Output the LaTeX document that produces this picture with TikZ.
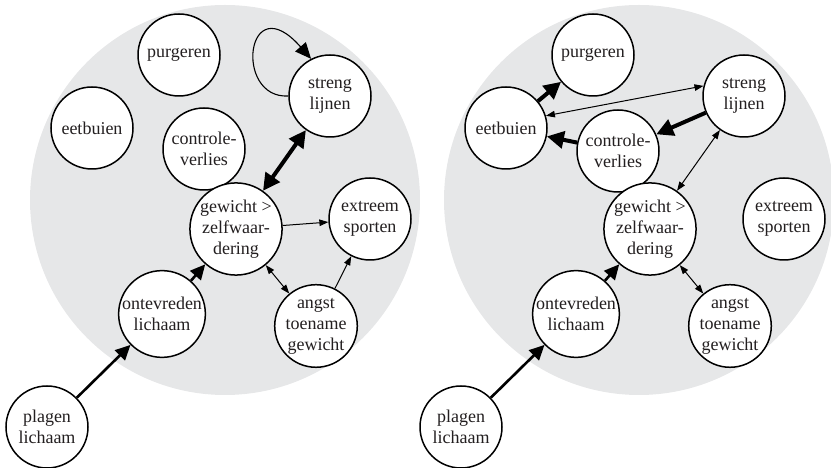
\documentclass[tikz,border=0pt]{standalone}
\usepackage{fontspec}
\setmainfont{Liberation Serif}
\usetikzlibrary{arrows.meta}

\definecolor{bggrey}{RGB}{230,231,232}
\definecolor{inkgrey}{RGB}{35,31,32}

\tikzset{
  factor/.style={shape=circle,draw=black,line width=1.5pt,fill=white,
    minimum size=82pt,inner sep=0pt,align=center,text=inkgrey,
    font=\fontsize{18}{21}\selectfont},
  heavyarrow/.style={line width=4pt,>={Triangle[length=17pt,width=17pt]}},
  midarrow/.style={line width=2.6pt,>={Triangle[length=15pt,width=14pt]}},
  lightarrow/.style={line width=1pt,>={Triangle[length=9pt,width=6.5pt]}},
}

\begin{document}
\begin{tikzpicture}[x=1pt,y=1pt]
    \useasboundingbox (0,0) rectangle (831,468);
    \fill[bggrey] (225,268) circle (195pt);
    \fill[bggrey] (639,268) circle (195pt);

    % before
    \node[factor] (purgeren1) at (179,413) {purgeren};
    \node[factor] (eetbuien1) at (92,340) {eetbuien};
    \node[factor] (controle1) at (204,319) {controle-\\verlies};
    \node[factor] (streng1) at (330,372) {streng\\lijnen};
    \node[factor] (gewicht1) at (236,239) {gewicht >\\zelfwaar-\\dering};
    \node[factor] (extreem1) at (370,249) {extreem\\sporten};
    \node[factor] (ontevreden1) at (162,154) {ontevreden\\lichaam};
    \node[factor] (angst1) at (316,142) {angst\\toename\\gewicht};
    \node[factor] (plagen1) at (47,41) {plagen\\lichaam};

    \path [heavyarrow,<->] (streng1) edge (gewicht1);
    \path [midarrow,->] (ontevreden1) edge (gewicht1);
    \path [midarrow,->] (plagen1) edge (ontevreden1);
    \path [lightarrow,->] (gewicht1) edge (extreem1);
    \path [lightarrow,<->] (gewicht1) edge (angst1);
    \path [lightarrow,->] (angst1) edge (extreem1);
    \draw [line width=1.1pt,-{Triangle[length=16pt,width=14pt]}]
      (streng1.west) .. controls +(-55,-3) and +(-65,74) .. (streng1.117);

    % after
    \begin{scope}[xshift=414pt]
    \node[factor] (purgeren2) at (179,413) {purgeren};
    \node[factor] (eetbuien2) at (92,340) {eetbuien};
    \node[factor] (controle2) at (204,317) {controle-\\verlies};
    \node[factor] (streng2) at (330,372) {streng\\lijnen};
    \node[factor] (gewicht2) at (236,239) {gewicht >\\zelfwaar-\\dering};
    \node[factor] (extreem2) at (370,249) {extreem\\sporten};
    \node[factor] (ontevreden2) at (162,154) {ontevreden\\lichaam};
    \node[factor] (angst2) at (316,142) {angst\\toename\\gewicht};
    \node[factor] (plagen2) at (47,41) {plagen\\lichaam};
    \end{scope}

    \path [heavyarrow,->] (eetbuien2) edge (purgeren2);
    \path [heavyarrow,->] (streng2) edge (controle2);
    \path [heavyarrow,->] (controle2) edge (eetbuien2);
    \path [lightarrow,<->] (eetbuien2.17) edge (streng2.166);
    \path [lightarrow,<->] (streng2) edge (gewicht2);
    \path [midarrow,->] (ontevreden2) edge (gewicht2);
    \path [midarrow,->] (plagen2) edge (ontevreden2);
    \path [lightarrow,<->] (gewicht2) edge (angst2);
\end{tikzpicture}
\end{document}
